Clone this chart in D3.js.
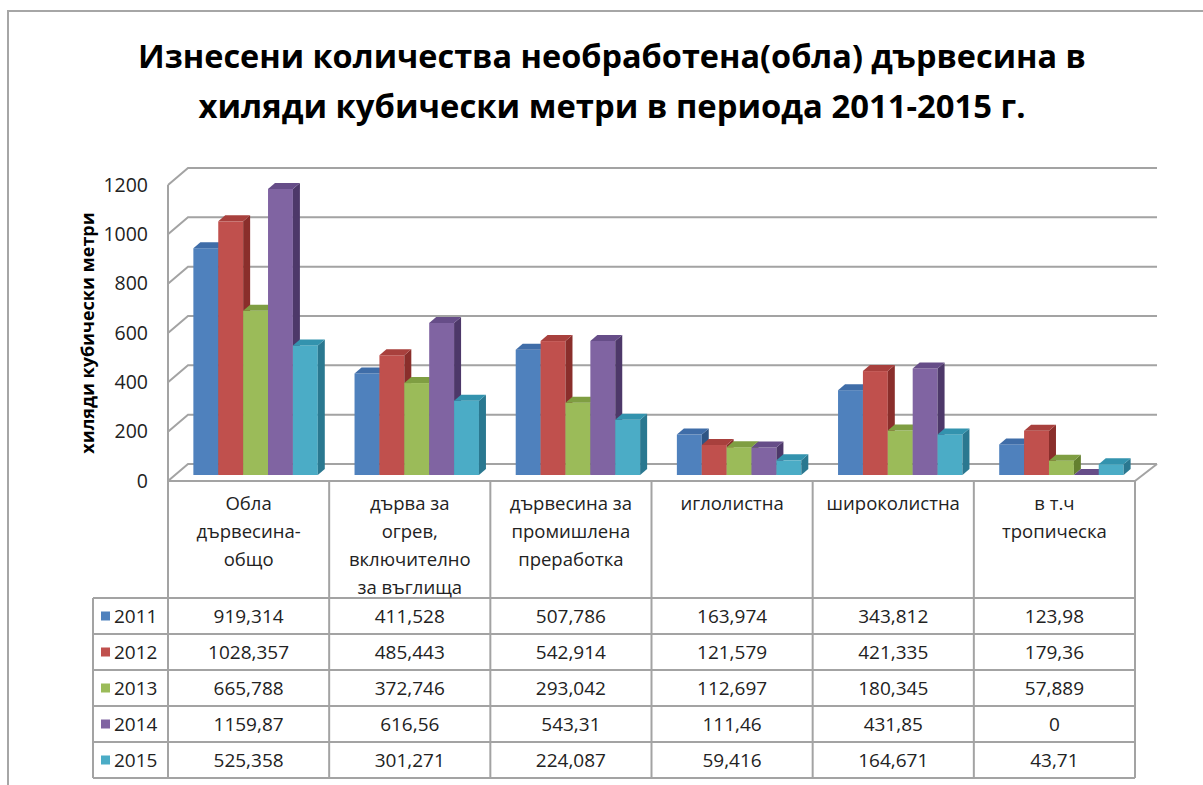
<!DOCTYPE html>
<html>
<head>
<meta charset="utf-8">
<script src="https://cdn.jsdelivr.net/npm/d3@7"></script>
<style>
    body { margin: 0; background: #fff; }
    text { font-family: "Open Sans", sans-serif; fill: #222; }
</style>
</head>
<body>
<div id="svg_container"></div>
<script>
// categories (header rows of the data table, already wrapped as in the picture)
var categories = ["Обла дървесина-общо", "дърва за огрев, включително за въглища",
    "дървесина за промишлена преработка", "иглолистна", "широколистна", "в т.ч тропическа"];
var categoryLines = [
    ["Обла", "дървесина-", "общо"],
    ["дърва за", "огрев,", "включително", "за въглища"],
    ["дървесина за", "промишлена", "преработка"],
    ["иглолистна"],
    ["широколистна"],
    ["в т.ч", "тропическа"]
];
var years = ["2011", "2012", "2013", "2014", "2015"];
var v2011 = [919.314, 411.528, 507.786, 163.974, 343.812, 123.98];
var v2012 = [1028.357, 485.443, 542.914, 121.579, 421.335, 179.36];
var v2013 = [665.788, 372.746, 293.042, 112.697, 180.345, 57.889];
var v2014 = [1159.87, 616.56, 543.31, 111.46, 431.85, 0];
var v2015 = [525.358, 301.271, 224.087, 59.416, 164.671, 43.71];
var labels2011 = ["919,314", "411,528", "507,786", "163,974", "343,812", "123,98"];
var labels2012 = ["1028,357", "485,443", "542,914", "121,579", "421,335", "179,36"];
var labels2013 = ["665,788", "372,746", "293,042", "112,697", "180,345", "57,889"];
var labels2014 = ["1159,87", "616,56", "543,31", "111,46", "431,85", "0"];
var labels2015 = ["525,358", "301,271", "224,087", "59,416", "164,671", "43,71"];
var yTicks = [0, 200, 400, 600, 800, 1000, 1200];

var seriesValues = [v2011, v2012, v2013, v2014, v2015];
var seriesLabels = [labels2011, labels2012, labels2013, labels2014, labels2015];

var frontColors = ["#4F81BD", "#C0504D", "#9BBB59", "#8064A2", "#4BACC6"];
var topColors = ["#3F6DA8", "#A8403D", "#7F9E42", "#664D88", "#3393AE"];
var sideColors = ["#2E5584", "#8A2E2B", "#64802F", "#4D3869", "#2A7890"];

var width = 1203, height = 785;
var gridColor = "#a3a3a3";

// 3d geometry
var depthX = 20, depthY = -17;       // floor / side wall depth
var barShiftX = 7, barShiftY = -6;  // bars stand a bit back from the front edge
var barDepthX = 7, barDepthY = -6;

var svg = d3.select("#svg_container")
        .append("svg")
        .attr("width", width)
        .attr("height", height);

// chart area border
svg.append("path")
        .attr("d", "M8,785 L8,11 L1203,11")
        .attr("fill", "none")
        .attr("stroke", "#a6a6a6")
        .attr("stroke-width", 2);

// title
var titleLines = [
    {text: "Изнесени количества необработена(обла) дървесина в", y: 68, len: 948},
    {text: "хиляди кубически метри в периода 2011-2015 г.", y: 118, len: 827}
];
svg.selectAll(".title")
        .data(titleLines)
        .enter()
        .append("text")
        .attr("class", "title")
        .attr("x", 612)
        .attr("y", function (d) { return d.y; })
        .attr("text-anchor", "middle")
        .attr("font-size", 32)
        .attr("font-weight", "bold")
        .attr("textLength", function (d) { return d.len; })
        .attr("lengthAdjust", "spacingAndGlyphs")
        .style("fill", "#000")
        .text(function (d) { return d.text; });

var x = d3.scaleBand()
        .domain(categories)
        .range([168, 1135]);

var y = d3.scaleLinear()
        .domain([0, 1200])
        .range([481, 185]);

var groupWidth = x.bandwidth() * 0.772;
var xInner = d3.scaleBand()
        .domain(years)
        .range([0, groupWidth]);

// side wall and back wall gridlines
var grid = svg.append("g").attr("class", "grid");
yTicks.forEach(function (t) {
    grid.append("path")
            .attr("d", "M168," + y(t)
                    + " L" + (168 + depthX) + "," + (y(t) + depthY)
                    + " L" + (1135 + depthX + 2) + "," + (y(t) + depthY))
            .attr("fill", "none")
            .attr("stroke", gridColor)
            .attr("stroke-width", 2);
});
// floor right edge and axis line
grid.append("path")
        .attr("d", "M1135," + y(0) + " L" + (1135 + depthX + 2) + "," + (y(0) + depthY))
        .attr("fill", "none")
        .attr("stroke", gridColor)
        .attr("stroke-width", 2);
grid.append("line")
        .attr("x1", 168).attr("x2", 168)
        .attr("y1", y(1200)).attr("y2", y(0))
        .attr("stroke", gridColor)
        .attr("stroke-width", 2);

// y axis labels
var yAxis = svg.append("g")
        .attr("transform", "translate(148,0)")
        .call(d3.axisLeft(y).tickValues(yTicks).tickFormat(d3.format("d")).tickSize(0).tickPadding(0));
yAxis.select(".domain").remove();
yAxis.selectAll("text")
        .attr("font-size", 19.5)
        .attr("font-family", "Open Sans, sans-serif")
        .style("fill", "#222");

svg.append("text")
        .attr("text-anchor", "middle")
        .attr("transform", "translate(94,333)rotate(-90)")
        .attr("font-size", 18)
        .attr("font-weight", "bold")
        .style("fill", "#000")
        .text("хиляди кубически метри");

// bars
var bars = svg.append("g").attr("class", "bars");
categories.forEach(function (c, ci) {
    var gx = x(c) + (x.bandwidth() - groupWidth) / 2 + barShiftX;
    years.forEach(function (yr, si) {
        var v = seriesValues[si][ci];
        var x0 = gx + xInner(yr);
        var x1 = x0 + xInner.bandwidth();
        var yb = y(0) + barShiftY;
        var yt = y(v) + barShiftY;
        var g = bars.append("g");
        if (v > 0) {
            g.append("rect")
                    .attr("x", x0)
                    .attr("y", yt)
                    .attr("width", x1 - x0)
                    .attr("height", yb - yt)
                    .attr("fill", frontColors[si]);
            g.append("path")
                    .attr("d", "M" + x1 + "," + yt
                            + " L" + (x1 + barDepthX) + "," + (yt + barDepthY)
                            + " L" + (x1 + barDepthX) + "," + (yb + barDepthY)
                            + " L" + x1 + "," + yb + "Z")
                    .attr("fill", sideColors[si]);
        }
        g.append("path")
                .attr("d", "M" + x0 + "," + yt
                        + " L" + (x0 + barDepthX) + "," + (yt + barDepthY)
                        + " L" + (x1 + barDepthX) + "," + (yt + barDepthY)
                        + " L" + x1 + "," + yt + "Z")
                .attr("fill", topColors[si]);
    });
});

// data table
var rowTop = 598, rowH = 36;
var table = svg.append("g").attr("class", "table");
var colEdges = categories.map(function (c) { return x(c); }).concat([1135]);
colEdges.forEach(function (cx) {
    table.append("line")
            .attr("x1", cx).attr("x2", cx)
            .attr("y1", y(0)).attr("y2", rowTop + rowH * years.length)
            .attr("stroke", gridColor)
            .attr("stroke-width", 2);
});
table.append("line")
        .attr("x1", 168).attr("x2", 1135)
        .attr("y1", y(0)).attr("y2", y(0))
        .attr("stroke", gridColor)
        .attr("stroke-width", 2);
table.append("line")
        .attr("x1", 93).attr("x2", 93)
        .attr("y1", rowTop).attr("y2", rowTop + rowH * years.length)
        .attr("stroke", gridColor)
        .attr("stroke-width", 2);
d3.range(years.length + 1).forEach(function (i) {
    table.append("line")
            .attr("x1", 93).attr("x2", 1135)
            .attr("y1", rowTop + rowH * i).attr("y2", rowTop + rowH * i)
            .attr("stroke", gridColor)
            .attr("stroke-width", 2);
});

// header texts
categories.forEach(function (c, ci) {
    var t = table.append("text")
            .attr("text-anchor", "middle")
            .attr("font-size", 18.5);
    categoryLines[ci].forEach(function (line, li) {
        t.append("tspan")
                .attr("x", x(c) + x.bandwidth() / 2)
                .attr("y", 510 + li * 28)
                .text(line);
    });
});

// legend keys and values
years.forEach(function (yr, si) {
    var cy = rowTop + rowH * si + rowH / 2;
    table.append("rect")
            .attr("x", 101)
            .attr("y", cy - 4.5)
            .attr("width", 9)
            .attr("height", 9)
            .attr("fill", frontColors[si]);
    table.append("text")
            .attr("x", 114)
            .attr("y", cy + 7)
            .attr("font-size", 19)
            .text(yr);
    categories.forEach(function (c, ci) {
        table.append("text")
                .attr("x", x(c) + x.bandwidth() / 2)
                .attr("y", cy + 7)
                .attr("text-anchor", "middle")
                .attr("font-size", 19)
                .text(seriesLabels[si][ci]);
    });
});
</script>
</body>
</html>
